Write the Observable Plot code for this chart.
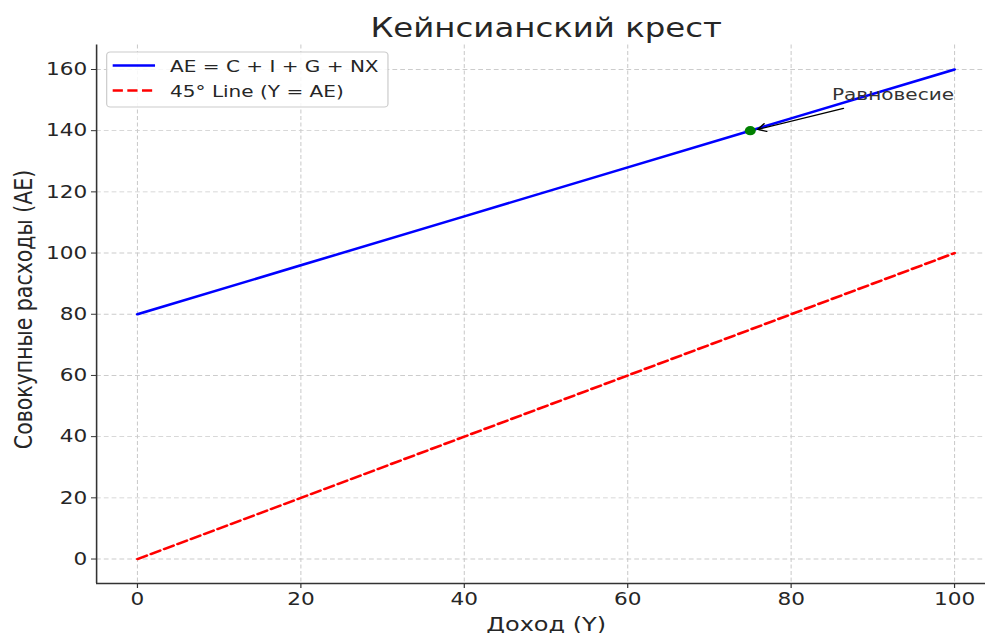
<!DOCTYPE html>
<html>
<head>
<meta charset="utf-8">
<script src="https://cdn.jsdelivr.net/npm/d3@7"></script>
<script src="https://cdn.jsdelivr.net/npm/@observablehq/plot@0.6"></script>
<style>
  html, body { margin: 0; padding: 0; background: white; }
  #chart { width: 985px; height: 633px; overflow: hidden; }
</style>
</head>
<body>
<div id="chart"></div>
<script>
// ---- data ----
const income = [0, 20, 40, 60, 80, 100];
const aggregateExpenditure = [80, 96, 112, 128, 144, 160];
const line45 = [0, 20, 40, 60, 80, 100];
const equilibrium = [{x: 75, y: 140}];
const xTicks = [0, 20, 40, 60, 80, 100];
const yTicks = [0, 20, 40, 60, 80, 100, 120, 140, 160];
const seriesNames = ["AE = C + I + G + NX", "45° Line (Y = AE)"];
const seriesColors = ["blue", "red"];
const titleText = "Кейнсианский крест";
const xLabel = "Доход (Y)";
const yLabel = "Совокупные расходы (AE)";
const annotationText = "Равновесие";
const annotationArrow = [{x1: 86.4, y1: 147.3, x2: 75.9, y2: 140.4}];

const aeData = income.map((x, i) => ({x, y: aggregateExpenditure[i]}));
const l45Data = income.map((x, i) => ({x, y: line45[i]}));

// horizontal stretch of the reference image
const S = 1.2;
const W = 985 / S, H = 633;
const textColor = "#262626";
const font = "DejaVu Sans, sans-serif";

const svg = Plot.plot({
  width: W,
  height: H,
  marginLeft: 80,
  marginRight: 0,
  marginTop: 44.5,
  marginBottom: 50,
  style: {background: "white", color: textColor, fontFamily: font},
  x: {domain: [-5, 103.8]},
  y: {domain: [-8, 168]},
  marks: [
    Plot.gridX(xTicks, {stroke: "#cccccc", strokeOpacity: 1, strokeWidth: 0.9, strokeDasharray: "4,2.5"}),
    Plot.gridY(yTicks, {stroke: "#cccccc", strokeOpacity: 1, strokeWidth: 0.9, strokeDasharray: "4,2.5"}),
    Plot.axisX(xTicks, {tickSize: 5, tickPadding: 4, fontSize: 18, label: null, stroke: "#333"}),
    Plot.axisY(yTicks, {tickSize: 4.2, tickPadding: 3.6, fontSize: 18, label: null, stroke: "#333"}),
    Plot.ruleX([-5], {stroke: "#333", strokeWidth: 1.3}),
    Plot.ruleY([-8], {stroke: "#333", strokeWidth: 1.3}),
    Plot.line(aeData, {x: "x", y: "y", stroke: seriesColors[0], strokeWidth: 2.5}),
    Plot.line(l45Data, {x: "x", y: "y", stroke: seriesColors[1], strokeWidth: 2.5, strokeDasharray: "8.5,3.7"}),
    Plot.arrow(annotationArrow, {x1: "x1", y1: "y1", x2: "x2", y2: "y2", stroke: "black", strokeWidth: 1.3, headLength: 9, bend: 0}),
    Plot.dot(equilibrium, {x: "x", y: "y", r: 4.6, fill: "green", stroke: "none"}),
    Plot.text([annotationText], {x: () => 85, y: () => 150, textAnchor: "start", lineAnchor: "bottom", fontSize: 16.7, fill: "#333"}),
    Plot.text([titleText], {frameAnchor: "top", lineAnchor: "bottom", dy: -7.8, dx: 4.2, fontSize: 27, fill: textColor}),
    Plot.text([xLabel], {frameAnchor: "bottom", lineAnchor: "bottom", dy: 47, dx: 4.2, fontSize: 20, fill: textColor}),
    Plot.text([yLabel], {frameAnchor: "left", rotate: -90, lineAnchor: "bottom", textAnchor: "middle", dx: -53.6, dy: -4.75, fontSize: 20.5, fill: textColor})
  ]
});

// legend (in plot coordinates)
const leg = d3.select(svg).append("g")
  .attr("font-family", font).attr("font-size", 16.7).attr("text-anchor", "start");
leg.append("rect").attr("x", 88.9).attr("y", 52).attr("width", 234.4).attr("height", 55)
  .attr("rx", 3).attr("fill", "white").attr("fill-opacity", 0.85).attr("stroke", "#cccccc");
seriesNames.forEach((name, i) => {
  const cy = 65.5 + i * 25;
  leg.append("line").attr("x1", 93.9).attr("x2", 129.2).attr("y1", cy).attr("y2", cy)
    .attr("stroke", seriesColors[i]).attr("stroke-width", 2.5)
    .attr("stroke-dasharray", i === 1 ? "8.5,3.7" : null);
  leg.append("text").attr("x", 141.7).attr("y", cy + 6.3).attr("fill", textColor)
    .attr("text-anchor", "start").text(name);
});

svg.setAttribute("preserveAspectRatio", "none");
svg.setAttribute("width", 985);
svg.setAttribute("height", 633);
svg.style.width = "985px";
svg.style.height = "633px";
svg.style.maxWidth = "none";
document.getElementById("chart").appendChild(svg);
</script>
</body>
</html>
